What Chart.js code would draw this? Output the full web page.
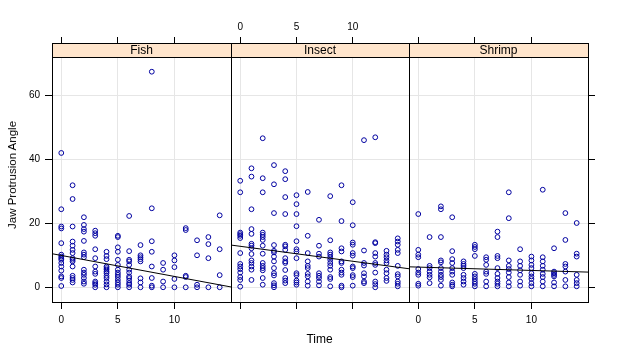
<!DOCTYPE html>
<html>
<head>
<meta charset="utf-8">
<script src="https://cdn.jsdelivr.net/npm/chart.js@4/dist/chart.umd.min.js"></script>
<style>
  html,body{margin:0;padding:0;background:#fff;}
  #wrap{position:relative;width:617px;height:356px;overflow:hidden;font-family:"Liberation Sans",Arial,sans-serif;}
  canvas{position:absolute;left:0;top:0;}
  .ttl{position:absolute;color:#000;white-space:nowrap;}
</style>
</head>
<body>
<div id="wrap">
  <canvas id="cFish" width="617" height="356"></canvas>
  <canvas id="cInsect" width="617" height="356"></canvas>
  <canvas id="cShrimp" width="617" height="356"></canvas>
  <div class="ttl" id="xt" style="font-size:12px;left:0;width:639px;text-align:center;top:332px;">Time</div>
  <div class="ttl" id="yt" style="font-size:11.5px;left:12px;top:175px;transform:translate(-50%,-50%) rotate(-90deg);">Jaw Protrusion Angle</div>
</div>
<script>
// ---- data ----
const panels = ["Fish", "Insect", "Shrimp"];
const times = [0, 1, 2, 3, 4, 5, 6, 7, 8, 9, 10, 11, 12, 13, 14];
const xTicks = [0, 5, 10];
const yTicks = [0, 20, 40, 60];

const fishAngles = [
  [42, 24.4, 19.0, 18.4, 13.8, 10.2, 9.6, 9.1, 8.6, 7.6, 6.5, 5.2, 3.4, 2.9, 0.4],
  [31.9, 27.6, 19.0, 14.3, 13.0, 11.7, 10.7, 9.1, 8.6, 8.1, 6.5, 3.6, 2.9, 2.3, 1.5],
  [21.9, 19.5, 18.2, 17.4, 14.5, 10.9, 10.2, 9.4, 5.5, 4.6, 3.9, 2.9, 1.8, 1.1],
  [17.7, 16.9, 16.1, 11.9, 9.1, 6.5, 4.9, 4.2, 1.8, 1.3, 0.8, 0],
  [11.1, 9.8, 8.8, 6.5, 6.0, 5.5, 4.9, 4.4, 3.6, 2.9, 1.8, 0.9, 0],
  [16.1, 15.7, 12.5, 11.1, 8.6, 7.0, 5.5, 4.6, 3.9, 3.2, 2.3, 1.5, 0.8, 0],
  [22.3, 11.3, 8.6, 8.1, 7.0, 5.5, 4.6, 3.4, 2.9, 2.1, 1.3, 0.8, 0],
  [13.2, 10.0, 9.4, 8.8, 8.1, 2.8, 1.5, 0],
  [67.4, 24.7, 14.4, 11.1, 6.5, 2.9, 0.5, 0],
  [7.6, 5.5, 1.8, 0],
  [10.0, 8.4, 6.3, 2.6, 0],
  [18.5, 17.9, 3.6, 3.2, 0],
  [14.7, 10.0, 0.8, 0],
  [15.7, 13.5, 9.1, 0],
  [22.5, 11.9, 3.8, 0]
];
const insectAngles = [
  [33.3, 29.7, 17.1, 16.6, 16.1, 15.4, 10.7, 7.3, 6.5, 5.7, 4.6, 3.2, 2.3, 0.2],
  [37.2, 34.6, 24.4, 18.2, 16.7, 13.6, 13.0, 12.2, 10.4, 8.4, 7.6, 6.5, 5.5, 2.3],
  [46.6, 34.1, 29.7, 17.1, 16.4, 15.7, 14.8, 13.0, 10.5, 7.6, 6.7, 6.0, 5.3, 2.9, 0.8],
  [38.2, 32.2, 23.2, 13.2, 11.4, 10.9, 9.6, 8.1, 6.0, 4.4, 3.7, 1.3, 0.6, 0],
  [36.3, 33.8, 28.2, 22.9, 13.3, 12.8, 11.7, 9.1, 8.1, 7.6, 5.4, 2.9, 2.1, 1.3],
  [28.8, 26.0, 22.9, 19.1, 14.4, 11.9, 11.2, 9.1, 4.4, 3.8, 2.1, 1.5, 0.8],
  [29.8, 16.1, 10.7, 8.1, 6.7, 6.0, 4.2, 3.4, 1.8, 0.5],
  [21.1, 13.0, 10.5, 9.6, 4.4, 3.6, 2.9, 1.8, 0.6],
  [28.5, 14.7, 10.9, 10.2, 9.4, 8.6, 7.6, 6.7, 5.5, 3.2, 2.6, 0.3],
  [31.9, 20.7, 12.2, 11.2, 8.1, 7.6, 5.5, 4.6, 3.9, 0.5, 0],
  [26.6, 19.4, 14.0, 13.3, 10.7, 9.9, 6.5, 6.0, 3.8, 3.2, 0.5],
  [46.0, 11.5, 7.6, 6.8, 4.4, 3.4, 1.8, 1.3],
  [46.9, 14.1, 13.8, 10.7, 9.6, 7.6, 7.0, 4.6, 1.8, 1.0, 0],
  [11.4, 10.2, 9.4, 8.4, 7.6, 5.5, 4.4, 2.9, 2.0],
  [15.3, 14.3, 13.3, 11.7, 10.7, 6.7, 4.1, 3.4, 1.8, 1.1, 0.3]
];
const shrimpAngles = [
  [22.9, 11.7, 10.2, 9.4, 5.7, 4.6, 3.9, 1.1, 0.5],
  [15.7, 6.7, 6.0, 4.9, 3.9, 3.1, 1.3],
  [25.3, 24.4, 15.7, 8.4, 7.8, 6.0, 4.9, 3.9, 3.2, 2.3, 0.5],
  [21.9, 11.3, 8.8, 7.6, 6.0, 4.9, 3.9, 1.5, 0.8, 0.3],
  [8.1, 7.3, 6.7, 6.0, 3.9, 2.9, 1.8, 0.8],
  [13.3, 12.6, 11.9, 9.8, 4.2, 3.4, 2.6, 1.8, 1.1, 0.3],
  [9.4, 8.6, 7.0, 4.9, 4.2, 1.8, 0.3],
  [17.4, 15.7, 9.8, 9.1, 6.0, 4.2, 2.9, 1.8, 1.1, 0.3],
  [29.7, 21.6, 8.4, 6.7, 5.7, 4.6, 3.2, 1.5, 0.3],
  [11.9, 8.1, 6.7, 5.3, 3.9, 1.8, 0.5],
  [9.6, 8.4, 7.0, 6.0, 4.4, 3.4, 2.6, 1.3, 0.3],
  [30.5, 9.4, 8.1, 6.7, 5.5, 4.2, 3.2, 1.8, 0.3],
  [12.2, 4.9, 4.4, 3.9, 3.4, 1.5, 0.3],
  [23.2, 14.8, 7.3, 6.5, 4.9, 2.3, 0.3],
  [20.1, 10.5, 9.6, 3.9, 2.3, 1.3, 0.3]
];
// least-squares line ends, read at the panel edges
const fitX = [-0.82, 15.0];
const fishFitY = [10.5, 0.1];
const insectFitY = [13.2, 5.8];
const shrimpFitY = [6.4, 4.75];
const xRange = [-0.82, 15.0];
const yRange = [-4.6, 72.0];

// ---- rendering ----
const FONT = '"Liberation Sans", Arial, sans-serif';
const PT = '#0000a0';

function toPoints(angles) {
  const pts = [];
  angles.forEach((list, i) => list.forEach(v => pts.push({ x: times[i], y: v })));
  return pts;
}

const stripPlugin = {
  id: 'strip',
  afterDraw(chart, args, opts) {
    const a = chart.chartArea, ctx = chart.ctx;
    const h = 14;
    ctx.save();
    ctx.fillStyle = '#ffe5cc';
    ctx.fillRect(a.left, a.top - h, a.right - a.left, h);
    ctx.strokeStyle = '#000';
    ctx.lineWidth = 1;
    ctx.strokeRect(Math.round(a.left) + 0.5, Math.round(a.top - h) + 0.5, Math.round(a.right - a.left), h);
    ctx.strokeRect(Math.round(a.left) + 0.5, Math.round(a.top) + 0.5, Math.round(a.right - a.left), Math.round(a.bottom - a.top));
    ctx.fillStyle = '#000';
    ctx.font = '12px ' + FONT;
    ctx.textAlign = 'center';
    ctx.textBaseline = 'middle';
    ctx.fillText(opts.label, (a.left + a.right) / 2, a.top - h / 2 + 0.5);
    ctx.restore();
  }
};

function setTicks(vals) { return s => { s.ticks = vals.map(v => ({ value: v })); }; }

function makePanel(id, label, angles, fitY, cfg) {
  const tickFont = { family: FONT, size: 10 };
  const scales = {
    x: {
      type: 'linear', position: 'bottom', min: xRange[0], max: xRange[1],
      afterBuildTicks: setTicks(xTicks),
      afterFit: s => { s.height = 30; },
      grid: { color: '#e6e6e6', tickColor: '#000', tickLength: 7, drawOnChartArea: true },
      border: { display: false },
      ticks: { display: cfg.bottomLabels, color: '#000', font: tickFont, padding: 5, maxRotation: 0 }
    },
    x2: {
      type: 'linear', position: 'top', min: xRange[0], max: xRange[1],
      afterBuildTicks: setTicks(xTicks),
      afterFit: s => { s.height = 42; },
      grid: { drawOnChartArea: false, tickColor: '#000', tickLength: 20 },
      border: { display: false },
      ticks: { display: cfg.topLabels, color: '#000', font: tickFont, padding: 4, maxRotation: 0 }
    },
    y: {
      type: 'linear', position: cfg.yPos, min: yRange[0], max: yRange[1],
      afterBuildTicks: setTicks(yTicks),
      afterFit: s => { s.width = cfg.yWidth; },
      grid: { color: '#e6e6e6', tickColor: '#000', tickLength: 7, drawTicks: cfg.yTicks },
      border: { display: false },
      ticks: { display: cfg.yLabels, color: '#000', font: tickFont, padding: 5 }
    }
  };
  return new Chart(document.getElementById(id), {
    type: 'scatter',
    data: {
      datasets: [
        {
          type: 'line', data: fitX.map((x, i) => ({ x: x, y: fitY[i] })),
          borderColor: '#000', borderWidth: 1, pointRadius: 0, fill: false, xAxisID: 'x', yAxisID: 'y'
        },
        {
          data: toPoints(angles), pointStyle: 'circle', pointRadius: 2.4, borderWidth: 1,
          borderColor: PT, backgroundColor: 'rgba(0,0,0,0)', xAxisID: 'x', yAxisID: 'y'
        }
      ]
    },
    options: {
      responsive: false, animation: false, devicePixelRatio: 1,
      layout: { padding: cfg.padding },
      scales: scales,
      plugins: { legend: { display: false }, tooltip: { enabled: false }, strip: { label: label } }
    },
    plugins: [stripPlugin]
  });
}

// panel area: top 57, bottom 302; Fish 52-231, Insect 231-409, Shrimp 409-588
makePanel('cFish', panels[0], fishAngles, fishFitY, {
  bottomLabels: true, topLabels: false, yPos: 'left', yWidth: 30, yTicks: true, yLabels: true,
  padding: { left: 22, right: 617 - 231, top: 15, bottom: 24 }
});
makePanel('cInsect', panels[1], insectAngles, insectFitY, {
  bottomLabels: false, topLabels: true, yPos: 'left', yWidth: 0, yTicks: false, yLabels: false,
  padding: { left: 231, right: 617 - 409, top: 15, bottom: 24 }
});
makePanel('cShrimp', panels[2], shrimpAngles, shrimpFitY, {
  bottomLabels: true, topLabels: false, yPos: 'right', yWidth: 10, yTicks: true, yLabels: false,
  padding: { left: 409, right: 617 - 588 - 10, top: 15, bottom: 24 }
});
</script>
</body>
</html>
